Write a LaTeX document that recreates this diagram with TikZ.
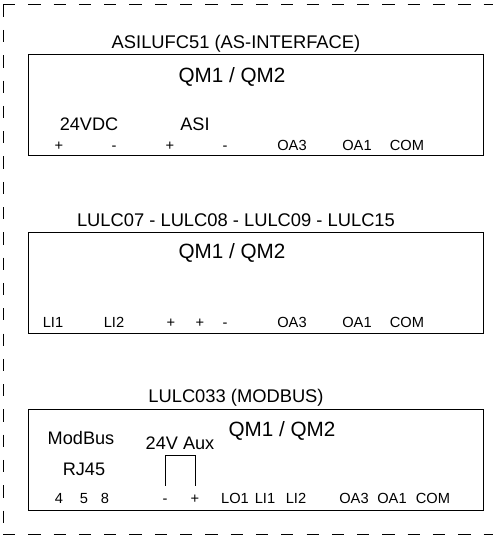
\documentclass[tikz,border=0pt]{standalone}
\usepackage{fontspec}
\setmainfont{Liberation Sans}
\usetikzlibrary{positioning}
\tikzstyle{module} = [rectangle, draw=black, line width=0.75pt, minimum width=341.4pt, minimum height=75.75pt, inner sep=0pt]
\tikzstyle{title} = [font=\fontsize{13.75}{15}\selectfont, inner sep=0pt]
\tikzstyle{qm} = [font=\fontsize{15.5}{18}\selectfont, inner sep=0pt]
\tikzstyle{big} = [font=\fontsize{13.6}{16}\selectfont, inner sep=0pt]
\tikzstyle{pin} = [font=\fontsize{11}{13}\selectfont, inner sep=0pt, text height=8pt, text depth=0pt]
\tikzstyle{frame} = [line width=0.75pt, dash pattern=on 9.2pt off 9.77pt]

\begin{document}
\begin{tikzpicture}[x=0.75pt, y=-0.75pt]
\useasboundingbox (0,0) rectangle (493,536);

% Outer frame (open on the right)
\coordinate (frameTR) at (493,4.7);
\coordinate (frameTL) at (3,4.7);
\coordinate (frameBL) at (3,534.7);
\coordinate (frameBR) at (493,534.7);
\draw[frame] (frameTL) -- (frameTR);
\draw[frame] (frameTL) -- (frameBL);
\draw[frame] (frameBL) -- (frameBR);

% Module 1
\node[module] (asi) at (255.9,105) {};
\node[title] (asiTitle) at (236,44) {ASILUFC51 (AS-INTERFACE)};
\node[qm] (asiQm) at (232,77) {QM1 / QM2};
\node[big] (asiVdc) at (89,124) {24VDC};
\node[big] (asiAsi) at (195,124) {ASI};
\node[pin] (asiA) at (59,145) {+};
\node[pin] (asiB) at (114,145) {-};
\node[pin] (asiC) at (170,145) {+};
\node[pin] (asiD) at (225,145) {-};
\node[pin] (asiOa3) at (292,145) {OA3};
\node[pin] (asiOa1) at (357,145) {OA1};
\node[pin] (asiCom) at (407,145) {COM};

% Module 2
\node[module] (lulc) at (255.9,283) {};
\node[title] (lulcTitle) at (236,220) {LULC07 - LULC08 - LULC09 - LULC15};
\node[qm] (lulcQm) at (232,253) {QM1 / QM2};
\node[pin] (lulcLi1) at (53,322) {LI1};
\node[pin] (lulcLi2) at (114,322) {LI2};
\node[pin] (lulcA) at (171,322) {+};
\node[pin] (lulcB) at (200,322) {+};
\node[pin] (lulcC) at (225,322) {-};
\node[pin] (lulcOa3) at (292,322) {OA3};
\node[pin] (lulcOa1) at (357,322) {OA1};
\node[pin] (lulcCom) at (407,322) {COM};

% Module 3
\node[module] (mod) at (255.9,460) {};
\node[title] (modTitle) at (236,398) {LULC033 (MODBUS)};
\node[qm] (modQm) at (282,431) {QM1 / QM2};
\node[big] (modBus) at (81,438) {ModBus};
\node[big] (modRj) at (84,469) {RJ45};
\node[big] (modAux) at (180,443) {24V Aux};
\node[pin] (modFour) at (59,498) {4};
\node[pin] (modFive) at (84,498) {5};
\node[pin] (modEight) at (105,498) {8};
\node[pin] (modMinus) at (165,498) {-};
\node[pin] (modPlus) at (195,498) {+};
\node[pin] (modLo1) at (235,498) {LO1};
\node[pin] (modLi1) at (265,498) {LI1};
\node[pin] (modLi2) at (296,498) {LI2};
\node[pin] (modOa3) at (354,498) {OA3};
\node[pin] (modOa1) at (392,498) {OA1};
\node[pin] (modCom) at (433,498) {COM};

% Jumper
\draw[line width=0.75pt] ([yshift=5pt]modMinus.north) -- ++(0,-30) -| ([yshift=5pt]modPlus.north);

\end{tikzpicture}
\end{document}
